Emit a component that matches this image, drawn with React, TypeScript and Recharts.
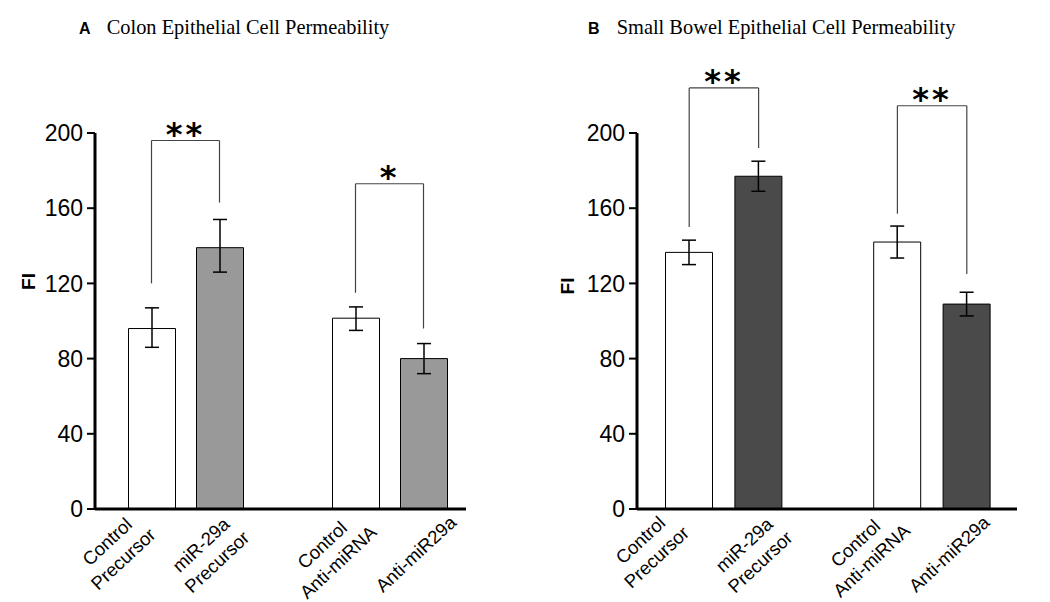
import React from 'react';
import { BarChart, Bar, XAxis, YAxis, Cell, ErrorBar, ReferenceLine } from 'recharts';

// categories (the blank one is the gap between the two pairs)
const categories = ['Control\nPrecursor', 'miR-29a\nPrecursor', ' ', 'Control\nAnti-miRNA', 'Anti-miR29a'];
const roles = ['control', 'treated', 'gap', 'control', 'treated'];
const yTicks = [0, 40, 80, 120, 160, 200];

// panel A: colon
const colonValues = [96, 139, null, 101.5, 80];
const colonErrors = [[10, 11], [13, 15], null, [6.5, 6], [8, 8]];

// panel B: small bowel
const bowelValues = [136.5, 177, null, 142, 109];
const bowelErrors = [[6.5, 6.5], [8, 8], null, [8.5, 8.5], [6.3, 6.3]];

// significance brackets (indices into categories, y values in FI units)
const colonBrackets = [
  { from: 0, to: 1, leftFoot: 120, rightFoot: 163, top: 196, stars: '**' },
  { from: 3, to: 4, leftFoot: 115, rightFoot: 96, top: 173, stars: '*' },
];
const bowelBrackets = [
  { from: 0, to: 1, leftFoot: 150, rightFoot: 192, top: 224, stars: '**' },
  { from: 3, to: 4, leftFoot: 157, rightFoot: 125, top: 214.5, stars: '**' },
];

const SANS = '"Liberation Sans", Arial, sans-serif';
const SERIF = '"Liberation Serif", "Times New Roman", serif';

// where each rotated x label sits relative to its tick (layout only)
const labelOffsetsA: (number[] | null)[] = [[-40, 37.4], [-14.3, 40.5], null, [-29, 40.7], [-3.3, 49.6]];
const labelOffsetsB: (number[] | null)[] = [[-44.4, 35.7], [-10.1, 40.5], null, [-37.6, 39], [-13.3, 49.6]];

function RotTick(props: any) {
  const { x, y, payload, index, offsets } = props;
  const off = offsets[index];
  const lines = String(payload.value).split('\n').filter((s: string) => s.trim());
  if (!off || !lines.length) return <g />;
  return (
    <g transform={`translate(${x + off[0]},${y + off[1]}) rotate(-43)`}>
      <text textAnchor="middle" fontSize={18.5} fontFamily={SANS} fill="#000">
        {lines.map((l: string, i: number) => (
          <tspan key={i} x={0} y={i * 23.5}>{l}</tspan>
        ))}
      </text>
    </g>
  );
}

function StarLabel(props: any) {
  const { viewBox, text } = props;
  return (
    <text
      x={viewBox.x + viewBox.width / 2}
      y={viewBox.y + 4}
      textAnchor="middle"
      fontSize={32}
      fontWeight="bold"
      letterSpacing={3}
      fontFamily='"DejaVu Sans", sans-serif'
      fill="#000"
    >
      {text}
    </text>
  );
}

interface PanelProps {
  values: (number | null)[];
  errors: (number[] | null)[];
  brackets: typeof colonBrackets;
  fill: string;
  width: number;
  axisWidth: number;
  right: number;
  padL: number;
  padR: number;
  offsets: (number[] | null)[];
}

function Panel({ values, errors, brackets, fill, width, axisWidth, right, padL, padR, offsets }: PanelProps) {
  const data = categories.map((name, i) => ({ name, value: values[i], err: errors[i], role: roles[i] }));
  const line = { stroke: '#444', strokeWidth: 1.2 };
  return (
    <BarChart width={width} height={602} data={data} margin={{ top: 133, right, bottom: 33, left: 0 }} barSize={47}>
      <XAxis
        dataKey="name"
        interval={0}
        height={60}
        tickSize={0}
        tickMargin={0}
        tickLine={false}
        padding={{ left: padL, right: padR }}
        axisLine={{ stroke: '#000', strokeWidth: 3 }}
        tick={(p: any) => <RotTick {...p} offsets={offsets} />}
      />
      <YAxis
        domain={[0, 200]}
        ticks={yTicks}
        width={axisWidth}
        tickSize={8}
        tickMargin={4}
        axisLine={{ stroke: '#000', strokeWidth: 3 }}
        tickLine={{ stroke: '#000', strokeWidth: 2 }}
        tick={{ fill: '#000', fontSize: 23, fontFamily: SANS }}
      />
      <Bar dataKey="value" isAnimationActive={false} stroke="#000" strokeWidth={1}>
        {data.map((d, i) => (
          <Cell key={i} fill={d.role === 'treated' ? fill : '#fff'} />
        ))}
        <ErrorBar dataKey="err" width={7} stroke="#000" strokeWidth={1.5} isAnimationActive={false} />
      </Bar>
      {brackets.map((b, i) => [
        <ReferenceLine
          key={`l${i}`}
          ifOverflow="visible"
          segment={[{ x: categories[b.from], y: b.leftFoot }, { x: categories[b.from], y: b.top }]}
          {...line}
        />,
        <ReferenceLine
          key={`r${i}`}
          ifOverflow="visible"
          segment={[{ x: categories[b.to], y: b.rightFoot }, { x: categories[b.to], y: b.top }]}
          {...line}
        />,
        <ReferenceLine
          key={`t${i}`}
          ifOverflow="visible"
          segment={[{ x: categories[b.from], y: b.top }, { x: categories[b.to], y: b.top }]}
          {...line}
          label={<StarLabel text={b.stars} />}
        />,
      ])}
    </BarChart>
  );
}

export default function App() {
  return (
    <div style={{ position: 'absolute', left: 0, top: 0, width: 1050, height: 602, background: '#fff' }}>
      <div style={{ position: 'absolute', left: 0, top: 0 }}>
        <Panel
          values={colonValues}
          errors={colonErrors}
          brackets={colonBrackets}
          fill="#999999"
          width={520}
          axisWidth={95}
          right={54}
          padL={22.5}
          padR={8.5}
          offsets={labelOffsetsA}
        />
      </div>
      <div style={{ position: 'absolute', left: 520, top: 0 }}>
        <Panel
          values={bowelValues}
          errors={bowelErrors}
          brackets={bowelBrackets}
          fill="#4a4a4a"
          width={530}
          axisWidth={117}
          right={33}
          padL={17.5}
          padR={15.5}
          offsets={labelOffsetsB}
        />
      </div>
      <svg width={1050} height={602} style={{ position: 'absolute', left: 0, top: 0, pointerEvents: 'none' }}>
        <text x={79} y={34.3} fontFamily={SANS} fontWeight="bold" fontSize={16}>A</text>
        <text x={106.7} y={34.3} fontFamily={SERIF} fontSize={20.4}>Colon Epithelial Cell Permeability</text>
        <text x={588} y={34.3} fontFamily={SANS} fontWeight="bold" fontSize={16}>B</text>
        <text x={616.7} y={34.3} fontFamily={SERIF} fontSize={20.4}>Small Bowel Epithelial Cell Permeability</text>
        <text transform="translate(35,281.5) rotate(-90)" textAnchor="middle" fontFamily={SANS} fontWeight="bold" fontSize={19}>FI</text>
        <text transform="translate(573.5,286) rotate(-90)" textAnchor="middle" fontFamily={SANS} fontWeight="bold" fontSize={19}>FI</text>
      </svg>
    </div>
  );
}
